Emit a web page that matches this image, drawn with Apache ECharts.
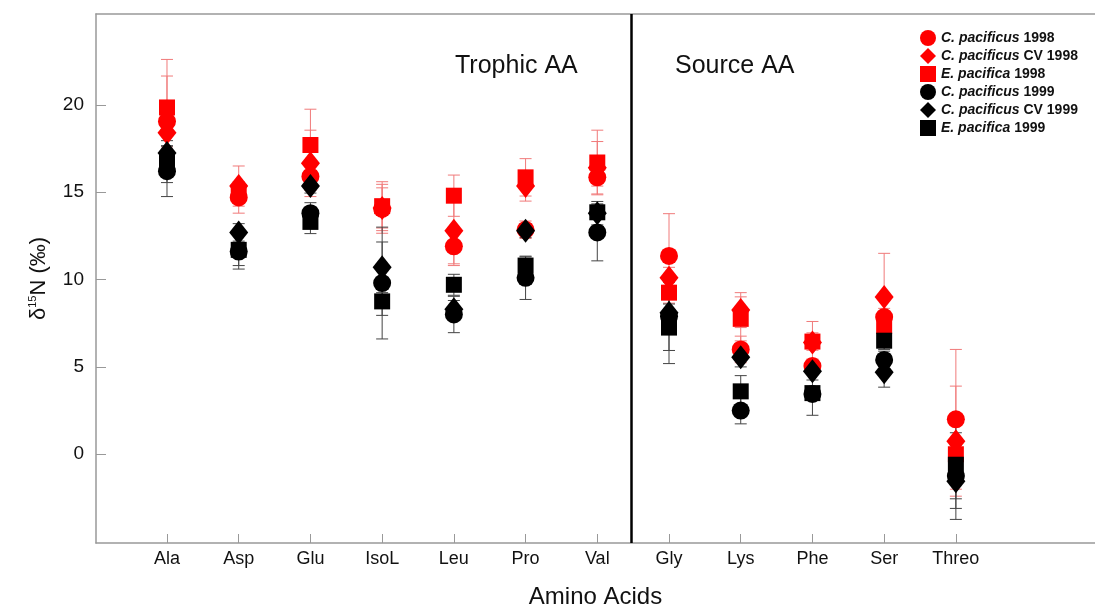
<!DOCTYPE html>
<html>
<head>
<meta charset="utf-8">
<script src="https://cdn.jsdelivr.net/npm/echarts@6/dist/echarts.min.js"></script>
<style>
	html, body { margin: 0; padding: 0; background: #fff; }
	#chart { width: 1095px; height: 610px; }
</style>
</head>
<body>
<div id="chart"></div>
<script>
var categories = ['Ala', 'Asp', 'Glu', 'IsoL', 'Leu', 'Pro', 'Val', 'Gly', 'Lys', 'Phe', 'Ser', 'Threo'];
var yTicks = [0, 5, 10, 15, 20];
var dividerAt = 6.47;

// C. pacificus 1998 (red circle)
var cp98 = [19.05, 14.7, 15.9, 14.05, 11.9, 12.85, 15.85, 11.35, 6.0, 5.05, 7.85, 2.0];
var cp98err = [2.6, 0.9, 0.8, 1.4, 1.0, 0.5, 0.5, 2.42, 0.76, 0.4, 0.5, 4.0];
// C. pacificus CV 1998 (red diamond)
var cv98 = [18.4, 15.35, 16.65, 14.1, 12.8, 15.35, 16.4, 10.1, 8.25, 6.4, 9.0, 0.75];
var cv98err = [0.8, 1.15, 1.9, 1.15, 2.0, 0.86, 1.5, 0.6, 1.0, 1.2, 2.5, 3.15];
// E. pacifica 1998 (red square)
var ep98 = [19.85, 15.0, 17.7, 14.2, 14.8, 15.85, 16.7, 9.25, 7.75, 6.45, 7.35, 0.0];
var ep98err = [2.75, 0.3, 2.05, 1.4, 1.18, 1.07, 1.85, 0.6, 1.26, 0.5, 0.5, 0.5];
// C. pacificus 1999 (black circle)
var cp99 = [16.2, 11.6, 13.8, 9.8, 8.0, 10.1, 12.7, 7.9, 2.5, 3.45, 5.4, -1.25];
var cp99err = [1.45, 1.0, 0.6, 3.2, 1.04, 1.24, 1.63, 1.96, 0.76, 1.22, 0.5, 2.48];
// C. pacificus CV 1999 (black diamond)
var cv99 = [17.25, 12.7, 15.35, 10.7, 8.3, 12.8, 13.8, 8.1, 5.55, 4.75, 4.7, -1.55];
var cv99err = [0.4, 0.5, 0.4, 1.45, 0.5, 0.4, 0.67, 0.5, 0.55, 0.5, 0.86, 1.0];
// E. pacifica 1999 (black square)
var ep99 = [16.75, 11.7, 13.3, 8.75, 9.7, 10.8, 13.85, 7.25, 3.6, 3.5, 6.5, -0.6];
var ep99err = [1.2, 0.9, 0.67, 0.8, 0.6, 0.5, 0.4, 2.06, 0.9, 0.3, 0.5, 2.5];

var FONT = "'Liberation Sans', Arial, sans-serif";
var RED = '#ff0000';
var BLACK = '#000000';

var groups = [
	{ name: 'C. pacificus 1998', vals: cp98, err: cp98err, color: RED, symbol: 'circle', size: 18, bar: '#f07a7a' },
	{ name: 'C. pacificus CV 1998', vals: cv98, err: cv98err, color: RED, symbol: 'diamond', size: [19, 24], bar: '#f07a7a' },
	{ name: 'E. pacifica 1998', vals: ep98, err: ep98err, color: RED, symbol: 'rect', size: 16, bar: '#f07a7a' },
	{ name: 'C. pacificus 1999', vals: cp99, err: cp99err, color: BLACK, symbol: 'circle', size: 18, bar: '#444444' },
	{ name: 'C. pacificus CV 1999', vals: cv99, err: cv99err, color: BLACK, symbol: 'diamond', size: [19, 24], bar: '#444444' },
	{ name: 'E. pacifica 1999', vals: ep99, err: ep99err, color: BLACK, symbol: 'rect', size: 16, bar: '#444444' }
];

function errorBarItem(params, api) {
	var x = api.value(0);
	var lo = api.coord([x, api.value(1)]);
	var hi = api.coord([x, api.value(2)]);
	var half = 6;
	var style = { stroke: api.visual('color'), lineWidth: 1 };
	return {
		type: 'group',
		children: [
			{ type: 'line', shape: { x1: lo[0], y1: lo[1], x2: hi[0], y2: hi[1] }, style: style },
			{ type: 'line', shape: { x1: lo[0] - half, y1: lo[1], x2: lo[0] + half, y2: lo[1] }, style: style },
			{ type: 'line', shape: { x1: hi[0] - half, y1: hi[1], x2: hi[0] + half, y2: hi[1] }, style: style }
		]
	};
}

var series = [];
// error bars under the markers
groups.forEach(function (g, gi) {
	series.push({
		type: 'custom',
		name: g.name + ' err',
		renderItem: errorBarItem,
		itemStyle: { color: g.bar },
		z: 1,
		silent: true,
		encode: { x: 0, y: [1, 2] },
		data: g.vals.map(function (v, i) { return [i, v - g.err[i], v + g.err[i]]; })
	});
});
groups.forEach(function (g, gi) {
	series.push({
		type: 'scatter',
		name: g.name,
		symbol: g.symbol,
		symbolSize: g.size,
		itemStyle: { color: g.color, opacity: 1 },
		z: 2 + gi,
		data: g.vals.map(function (v, i) { return [i, v]; })
	});
});
// divider between trophic and source amino acids
series[series.length - 1].markLine = {
	silent: true,
	symbol: ['none', 'none'],
	label: { show: false },
	lineStyle: { color: '#000', width: 2.5, type: 'solid' },
	data: [{ xAxis: dividerAt }]
};

var chart = echarts.init(document.getElementById('chart'));
chart.setOption({
	animation: false,
	backgroundColor: '#fff',
	textStyle: { fontFamily: FONT },
	grid: { left: 96, right: 0, top: 14, bottom: 67, containLabel: false, outerBoundsMode: 'none' },
	legend: {
		orient: 'vertical',
		left: 915,
		top: 25,
		itemWidth: 16,
		itemHeight: 16,
		itemGap: 2,
		data: groups.map(function (g) { return { name: g.name, icon: g.symbol }; }),
		formatter: function (name) {
			var m = name.match(/^(\S+ \S+)(.*)$/);
			return '{i|' + m[1] + '}{b|' + m[2] + '}';
		},
		textStyle: {
			rich: {
				i: { fontFamily: FONT, fontSize: 14, fontWeight: 'bold', fontStyle: 'italic', color: '#111' },
				b: { fontFamily: FONT, fontSize: 14, fontWeight: 'bold', color: '#111' }
			}
		}
	},
	xAxis: [{
		type: 'value',
		min: -0.99,
		max: 12.94,
		name: 'Amino Acids',
		nameLocation: 'middle',
		nameGap: 42,
		nameTextStyle: { fontSize: 24, color: '#111', fontFamily: FONT },
		axisLine: { onZero: false, lineStyle: { color: '#999', width: 1.5 } },
		axisTick: { inside: true, length: 9, customValues: categories.map(function (c, i) { return i; }), lineStyle: { color: '#999' } },
		axisLabel: {
			customValues: categories.map(function (c, i) { return i; }),
			formatter: function (v) { return categories[Math.round(v)]; },
			fontSize: 18, color: '#111', margin: 7
		},
		splitLine: { show: false }
	}, {
		type: 'value',
		position: 'top',
		min: -0.99,
		max: 12.94,
		axisLine: { show: true, onZero: false, lineStyle: { color: '#999', width: 1.5 } },
		axisTick: { show: false },
		axisLabel: { show: false },
		splitLine: { show: false }
	}],
	yAxis: {
		type: 'value',
		min: -5.08,
		max: 25.2,
		name: '{d|δ}{s|15}{n|N (‰)}',
		nameLocation: 'middle',
		nameGap: 46,
		nameRotate: 90,
		nameTextStyle: {
			rich: {
				d: { fontSize: 22, color: '#111', fontFamily: FONT },
				s: { fontSize: 11, color: '#111', fontFamily: FONT, padding: [0, 0, 12, 0] },
				n: { fontSize: 22, color: '#111', fontFamily: FONT }
			}
		},
		axisLine: { show: true, onZero: false, lineStyle: { color: '#999', width: 1.5 } },
		axisTick: { show: true, inside: true, length: 10, customValues: yTicks, lineStyle: { color: '#999' } },
		axisLabel: { customValues: yTicks, fontSize: 19, color: '#111', margin: 12 },
		splitLine: { show: false }
	},
	graphic: [
		{ type: 'text', left: 455, top: 54, style: { text: 'Trophic AA', font: '25px ' + FONT, fill: '#111' } },
		{ type: 'text', left: 675, top: 54, style: { text: 'Source AA', font: '25px ' + FONT, fill: '#111' } }
	],
	series: series
});
</script>
</body>
</html>
